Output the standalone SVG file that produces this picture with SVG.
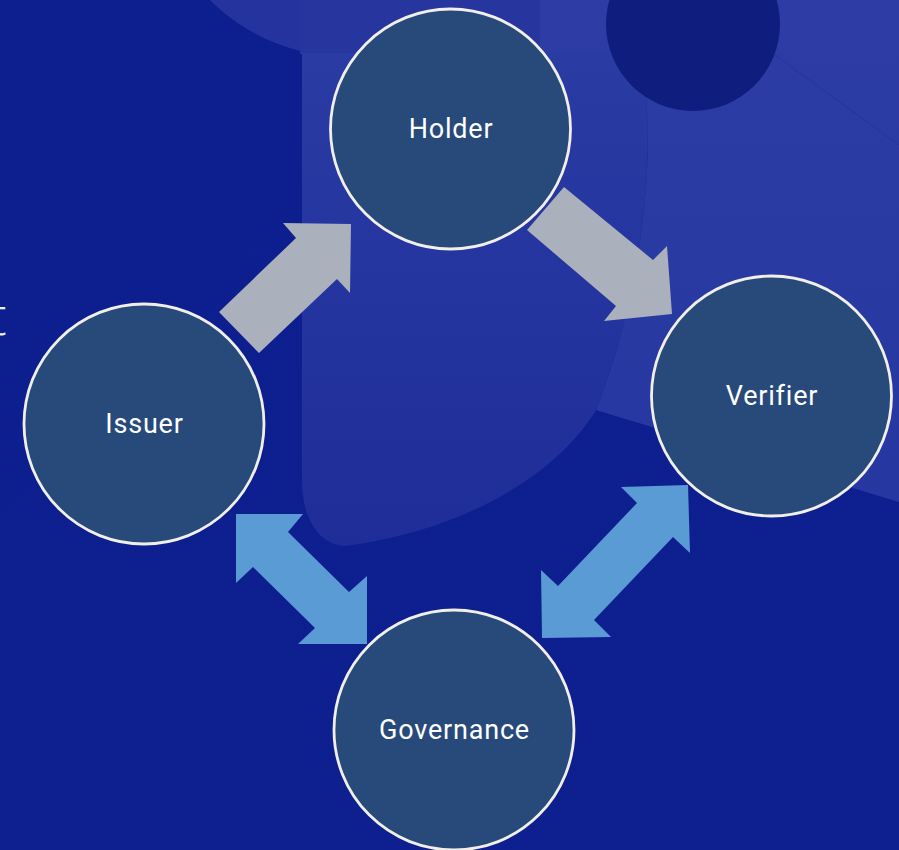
<svg xmlns="http://www.w3.org/2000/svg" width="899" height="850" viewBox="0 0 899 850">
  <style>
    .node circle { fill: #274a7a; stroke: #f2efe9; stroke-width: 2.8; }
    .node text { fill: #ffffff; font-family: Roboto, "Liberation Sans", sans-serif; font-size: 27px; letter-spacing: 0.8px; text-anchor: middle; }
    .gray { fill: #aab0bc; }
    .blue { fill: #5b9bd5; }
  </style>
  <defs>
    <linearGradient id="shieldGrad" x1="0" y1="0" x2="0" y2="1">
      <stop offset="0" stop-color="#2b3ba4"/>
      <stop offset="1" stop-color="#1e2d98"/>
    </linearGradient>
    <linearGradient id="rightGrad" x1="0" y1="0" x2="0" y2="1">
      <stop offset="0" stop-color="#2d3da5"/>
      <stop offset="1" stop-color="#2737a1"/>
    </linearGradient>
    <linearGradient id="baseGrad" x1="0" y1="0" x2="1" y2="1">
      <stop offset="0" stop-color="#0d1f8e"/>
      <stop offset="1" stop-color="#0e1f90"/>
    </linearGradient>
  </defs>

  <g id="background">
    <rect x="0" y="0" width="899" height="850" fill="url(#baseGrad)"/>
    <circle cx="348" cy="-139" r="196" fill="#25339f"/>
    <rect x="300" y="0" width="260" height="54" fill="#27359f"/>
    <path d="M540,0 L899,0 L899,502 L596,410 C640,300 660,150 640,53 L540,53 Z" fill="url(#rightGrad)"/>
    <path d="M302,53 L640,53 C660,150 640,300 596,410 C560,470 470,530 345,546 C320,545 302,520 302,480 Z" fill="url(#shieldGrad)"/>
    <path d="M775,55 L899,145" stroke="#2533a0" stroke-width="1" fill="none"/>
    <circle cx="693" cy="24" r="87" fill="#0f1e7e"/>
    <text x="-11" y="335" fill="#f2efe9" font-family="'Open Sans', 'Liberation Sans', sans-serif" font-weight="300" font-size="53">t</text>
  </g>

  <g id="connectors">
    <polygon class="gray" points="219,312 296,238 283,223 351,224 350,293 337,279 259,353"/>
    <polygon class="gray" points="564,187 653,260 667,246 672,314 604,321 616,306 527,230"/>
    <polygon class="blue" points="236,514 303,514 288,532 349,592 367,576 367,644 298,644 315,628 253,567 236,583"/>
    <polygon class="blue" points="688,485 621,487 637,503 558,586 541,570 542,638 611,637 594,620 673,537 690,553"/>
  </g>

  <g id="holder" class="node">
    <circle cx="450.5" cy="129" r="120"/>
    <text x="451" y="138">Holder</text>
  </g>
  <g id="issuer" class="node">
    <circle cx="144" cy="424" r="120"/>
    <text x="144.5" y="433">Issuer</text>
  </g>
  <g id="verifier" class="node">
    <circle cx="771.5" cy="396" r="120"/>
    <text x="772" y="405">Verifier</text>
  </g>
  <g id="governance" class="node">
    <circle cx="454" cy="730" r="120"/>
    <text x="454.5" y="739">Governance</text>
  </g>
</svg>
